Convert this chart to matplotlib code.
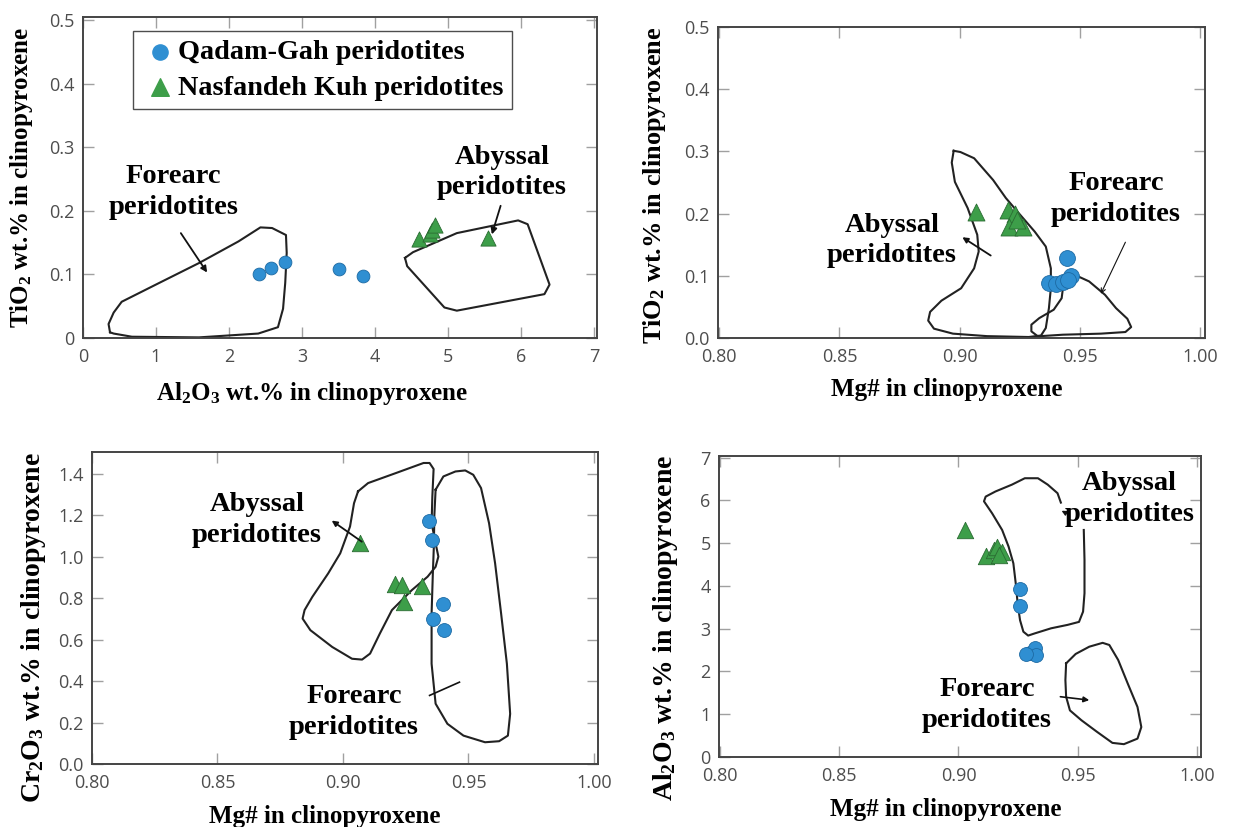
import numpy as np
import matplotlib
matplotlib.use('Agg')
import matplotlib.pyplot as plt

plt.rcParams['mathtext.fontset'] = 'custom'
plt.rcParams['mathtext.rm'] = 'Liberation Serif'
plt.rcParams['mathtext.bf'] = 'Liberation Serif:bold'
plt.rcParams['mathtext.default'] = 'bf'

# ---- panel A: Al2O3 vs TiO2 ----
a_qg_x = [2.41, 2.58, 2.77, 3.50, 3.83]
a_qg_y = [0.101, 0.110, 0.120, 0.109, 0.098]
a_nk_x = [4.60, 4.75, 4.78, 4.82, 5.55]
a_nk_y = [0.155, 0.163, 0.170, 0.178, 0.158]
a_fore_x = [0.37, 0.35, 0.42, 0.53, 1.05, 1.59, 2.13, 2.43, 2.59, 2.78, 2.79, 2.77, 2.74, 2.67, 2.40, 1.59, 0.67, 0.42]
a_fore_y = [0.009, 0.022, 0.040, 0.057, 0.087, 0.118, 0.152, 0.174, 0.173, 0.162, 0.134, 0.087, 0.046, 0.017, 0.007, 0.001, 0.002, 0.007]
a_aby_x = [4.41, 4.52, 5.12, 5.96, 6.09, 6.39, 6.32, 5.12, 4.95, 4.44]
a_aby_y = [0.126, 0.135, 0.165, 0.185, 0.179, 0.084, 0.069, 0.043, 0.048, 0.113]

# ---- panel B: Mg# vs TiO2 ----
b_qg_x = [0.9447, 0.937, 0.940, 0.943, 0.9464, 0.945]
b_qg_y = [0.129, 0.088, 0.087, 0.090, 0.099, 0.094]
b_nk_x = [0.9066, 0.9199, 0.9232, 0.9205, 0.9265, 0.9239]
b_nk_y = [0.203, 0.206, 0.200, 0.179, 0.179, 0.190]
b_aby_x = [0.8975, 0.9003, 0.906, 0.9139, 0.9192, 0.9246, 0.9312, 0.9358, 0.9379, 0.9379, 0.9371, 0.9358,
           0.9338, 0.9287, 0.9114, 0.8972, 0.8893, 0.8869, 0.8877, 0.8924, 0.9006, 0.906, 0.9079, 0.9073,
           0.9033, 0.898, 0.8967]
b_aby_y = [0.301, 0.299, 0.289, 0.254, 0.225, 0.2005, 0.171, 0.147, 0.112, 0.080, 0.048, 0.016,
           0.004, 0.0016, 0.003, 0.007, 0.015, 0.028, 0.042, 0.060, 0.080, 0.112, 0.139, 0.166,
           0.209, 0.251, 0.282]
b_fore_x = [0.9451, 0.9478, 0.9538, 0.9604, 0.965, 0.9697, 0.9713, 0.9689, 0.9587, 0.9429, 0.9325,
            0.9298, 0.9298, 0.9331, 0.9391, 0.9424, 0.9431]
b_fore_y = [0.1016, 0.1016, 0.091, 0.0695, 0.048, 0.031, 0.0176, 0.0096, 0.007, 0.0053, 0.0027,
            0.0107, 0.0214, 0.032, 0.0455, 0.064, 0.0856]

# ---- panel C: Mg# vs Cr2O3 ----
c_qg_x = [0.9342, 0.9356, 0.940, 0.9359, 0.9404]
c_qg_y = [1.174, 1.082, 0.772, 0.702, 0.646]
c_nk_x = [0.9069, 0.9209, 0.9236, 0.9242, 0.9313]
c_nk_y = [1.069, 0.868, 0.864, 0.783, 0.859]
c_aby_x = [0.906, 0.910, 0.921, 0.9321, 0.9345, 0.9361, 0.9356, 0.9353, 0.9369, 0.938, 0.9369, 0.9337,
           0.9274, 0.9195, 0.9147, 0.9108, 0.9076, 0.9036, 0.8957, 0.887, 0.8839, 0.8847, 0.8878,
           0.8941, 0.8989, 0.9028, 0.9044]
c_aby_y = [1.316, 1.356, 1.404, 1.453, 1.453, 1.424, 1.291, 1.162, 1.065, 1.001, 0.952, 0.904,
           0.839, 0.743, 0.630, 0.533, 0.504, 0.508, 0.565, 0.646, 0.702, 0.743, 0.807,
           0.920, 1.017, 1.146, 1.259]
c_fore_x = [0.9369, 0.940, 0.9448, 0.9487, 0.9519, 0.955, 0.9582, 0.9606, 0.963, 0.9653, 0.9666, 0.9657,
            0.9622, 0.9566, 0.948, 0.9416, 0.9369, 0.9353, 0.9353, 0.9358, 0.9362, 0.9364]
c_fore_y = [1.324, 1.388, 1.412, 1.417, 1.396, 1.332, 1.162, 0.969, 0.726, 0.484, 0.242, 0.137,
            0.110, 0.105, 0.137, 0.194, 0.291, 0.484, 0.726, 0.920, 1.05, 1.20]

# ---- panel D: Mg# vs Al2O3 ----
d_qg_x = [0.9258, 0.9258, 0.9299, 0.932, 0.9326, 0.9285]
d_qg_y = [3.92, 3.54, 2.44, 2.56, 2.38, 2.42]
d_nk_x = [0.9029, 0.9114, 0.9148, 0.9162, 0.9183, 0.9169]
d_nk_y = [5.31, 4.69, 4.84, 4.92, 4.80, 4.73]
d_aby_x = [0.9525, 0.9528, 0.9528, 0.9522, 0.9505, 0.9457, 0.9388, 0.9319, 0.9292, 0.9272, 0.9258,
           0.9248, 0.924, 0.923, 0.921, 0.9183, 0.9141, 0.9107, 0.9114, 0.9155, 0.9224, 0.9278,
           0.9333, 0.9374, 0.9415, 0.9429]
d_aby_y = [5.31, 4.61, 3.83, 3.40, 3.16, 3.09, 3.01, 2.89, 2.84, 2.93, 3.20,
           3.59, 4.06, 4.53, 4.92, 5.31, 5.70, 5.98, 6.09, 6.21, 6.37, 6.52,
           6.52, 6.37, 6.17, 5.95]
d_fore_x = [0.9451, 0.9491, 0.9548, 0.9604, 0.9632, 0.9669, 0.9709, 0.975, 0.9766, 0.975, 0.9693,
            0.9645, 0.958, 0.9515, 0.9467, 0.9451, 0.9448]
d_fore_y = [2.19, 2.41, 2.58, 2.67, 2.62, 2.27, 1.72, 1.17, 0.70, 0.43, 0.30,
            0.33, 0.59, 0.86, 1.09, 1.41, 1.80]

BLUE = '#2f8fd2'
BLUE_E = '#1d6aa3'
GREEN = '#3d9e49'
GREEN_E = '#2a6b32'
SERIF = 'Liberation Serif'
W, H = 1236, 827

fig = plt.figure(figsize=(W / 100, H / 100), dpi=100)
fig.patch.set_facecolor('white')


def make_ax(l, r, t, b):
    return fig.add_axes([l / W, 1 - b / H, (r - l) / W, (b - t) / H])


def style(ax, xlim, ylim, xticks, xlabels, yticks, ylabels, xlab, ylab, xl_pos, yl_pos, ysize=18):
    ax.set_xlim(*xlim)
    ax.set_ylim(*ylim)
    ax.set_xticks(xticks)
    ax.set_xticklabels(xlabels)
    ax.set_yticks(yticks)
    ax.set_yticklabels(ylabels)
    ax.tick_params(direction='in', length=8, width=1, color='#a0a0a0',
                   labelsize=13, labelcolor='#4d4d4d', top=True, right=True)
    ax.tick_params(axis='x', pad=7)
    ax.tick_params(axis='y', pad=6)
    for lab in ax.get_xticklabels() + ax.get_yticklabels():
        lab.set_family('Open Sans')
    for s in ax.spines.values():
        s.set_color('#444444')
        s.set_linewidth(1.4)
    ax.set_xlabel(xlab, fontsize=18, family=SERIF, fontweight='bold')
    ax.set_ylabel(ylab, fontsize=ysize, family=SERIF, fontweight='bold')
    ax.xaxis.set_label_coords(*xl_pos)
    ax.yaxis.set_label_coords(*yl_pos)


def outline(ax, xs, ys, closed=True):
    xs = list(xs)
    ys = list(ys)
    if closed:
        xs.append(xs[0])
        ys.append(ys[0])
    ax.plot(xs, ys, color='#222222', lw=1.5, zorder=2)


def points(ax, qx, qy, nx, ny, sq=85, sn=120):
    ax.scatter(nx, ny, marker='^', s=sn, color=GREEN, edgecolor=GREEN_E, linewidth=0.6, zorder=3)
    ax.scatter(qx, qy, marker='o', s=sq, color=BLUE, edgecolor=BLUE_E, linewidth=0.6, zorder=4)


def label(ax, x, y, txt):
    ax.text(x, y, txt, fontsize=20.5, family=SERIF, fontweight='bold', ha='center', va='center',
            linespacing=1.3, zorder=5)


def arrow(ax, tail, head, lw=1.3, ms=9):
    ax.annotate('', xy=head, xytext=tail,
                arrowprops=dict(arrowstyle='-|>', color='#111111', lw=lw, mutation_scale=ms,
                                shrinkA=0, shrinkB=0))


mg_ticks = [0.80, 0.85, 0.90, 0.95, 1.00]
mg_labels = ['0.80', '0.85', '0.90', '0.95', '1.00']
mg_lab = 'Mg# in clinopyroxene'

# panel A
ax1 = make_ax(83, 597, 17, 338)
outline(ax1, a_fore_x, a_fore_y)
outline(ax1, a_aby_x, a_aby_y)
points(ax1, a_qg_x, a_qg_y, a_nk_x, a_nk_y)
label(ax1, 1.24, 0.2295, 'Forearc\nperidotites')
label(ax1, 5.74, 0.2606, 'Abyssal\nperidotites')
arrow(ax1, (1.34, 0.165), (1.70, 0.103))
arrow(ax1, (5.72, 0.208), (5.60, 0.163))
style(ax1, (0, 7.04), (0, 0.505), range(8), [str(i) for i in range(8)],
      [0, 0.1, 0.2, 0.3, 0.4, 0.5], ['0', '0.1', '0.2', '0.3', '0.4', '0.5'],
      r'Al$_2$O$_3$ wt.% in clinopyroxene', r'TiO$_2$ wt.% in clinopyroxene',
      (0.445, -0.13), (-0.093, 0.5))
h1 = ax1.scatter([], [], marker='o', s=120, color=BLUE, label='Qadam-Gah peridotites')
h2 = ax1.scatter([], [], marker='^', s=160, color=GREEN, label='Nasfandeh Kuh peridotites')
leg = ax1.legend(handles=[h1, h2], loc='upper left', bbox_to_anchor=(0.097, 0.957),
                 prop={'family': SERIF, 'weight': 'bold', 'size': 20.3}, frameon=True,
                 fancybox=False, edgecolor='#222222', handletextpad=0.0, handlelength=1.3,
                 borderpad=0.3, labelspacing=0.35, borderaxespad=0)
leg.get_frame().set_linewidth(1.0)

# panel B
ax2 = make_ax(718, 1205, 27, 338)
outline(ax2, b_aby_x, b_aby_y)
outline(ax2, b_fore_x, b_fore_y)
points(ax2, b_qg_x, b_qg_y, b_nk_x, b_nk_y, sq=130, sn=150)
label(ax2, 0.8719, 0.1567, 'Abyssal\nperidotites')
label(ax2, 0.965, 0.2235, 'Forearc\nperidotites')
arrow(ax2, (0.9129, 0.1326), (0.9011, 0.162), lw=1.3, ms=8)
ax2.annotate('', xy=(0.9587, 0.071), xytext=(0.9689, 0.154),
             arrowprops=dict(arrowstyle='->', color='#111111', lw=0.8, mutation_scale=8,
                             shrinkA=0, shrinkB=0))
style(ax2, (0.7995, 1.002), (0, 0.5), mg_ticks, mg_labels,
      [0, 0.1, 0.2, 0.3, 0.4, 0.5], ['0.0', '0.1', '0.2', '0.3', '0.4', '0.5'],
      mg_lab, r'TiO$_2$ wt.% in clinopyroxene', (0.47, -0.129), (-0.103, 0.49), ysize=19)

# panel C
ax3 = make_ax(92, 598, 452, 764)
outline(ax3, c_aby_x, c_aby_y)
outline(ax3, c_fore_x, c_fore_y)
points(ax3, c_qg_x, c_qg_y, c_nk_x, c_nk_y, sq=100, sn=140)
label(ax3, 0.8657, 1.178, 'Abyssal\nperidotites')
label(ax3, 0.9044, 0.25, 'Forearc\nperidotites')
arrow(ax3, (0.9075, 1.073), (0.8955, 1.175), lw=1.3, ms=8)
ax3.plot([0.9345, 0.9464], [0.331, 0.395], color='#111111', lw=1.2, zorder=2)
style(ax3, (0.80, 1.0016), (0, 1.506), mg_ticks, mg_labels,
      [0, 0.2, 0.4, 0.6, 0.8, 1.0, 1.2, 1.4],
      ['0.0', '0.2', '0.4', '0.6', '0.8', '1.0', '1.2', '1.4'],
      mg_lab, r'Cr$_2$O$_3$ wt.% in clinopyroxene', (0.46, -0.131), (-0.087, 0.436), ysize=20)

# panel D
ax4 = make_ax(719, 1201, 456, 757)
outline(ax4, d_aby_x, d_aby_y, closed=False)
outline(ax4, d_fore_x, d_fore_y)
points(ax4, d_qg_x, d_qg_y, d_nk_x, d_nk_y, sq=100, sn=140)
label(ax4, 0.9717, 6.03, 'Abyssal\nperidotites')
label(ax4, 0.912, 1.21, 'Forearc\nperidotites')
arrow(ax4, (0.9445, 5.72), (0.9432, 5.76), lw=1.0, ms=7)
arrow(ax4, (0.9427, 1.41), (0.9548, 1.33), lw=1.2, ms=8)
style(ax4, (0.7997, 1.0016), (0, 7.04), mg_ticks, mg_labels,
      range(8), [str(i) for i in range(8)],
      mg_lab, r'Al$_2$O$_3$ wt.% in clinopyroxene', (0.47, -0.136), (-0.081, 0.43), ysize=20)

fig.savefig('out.png', dpi=100)
